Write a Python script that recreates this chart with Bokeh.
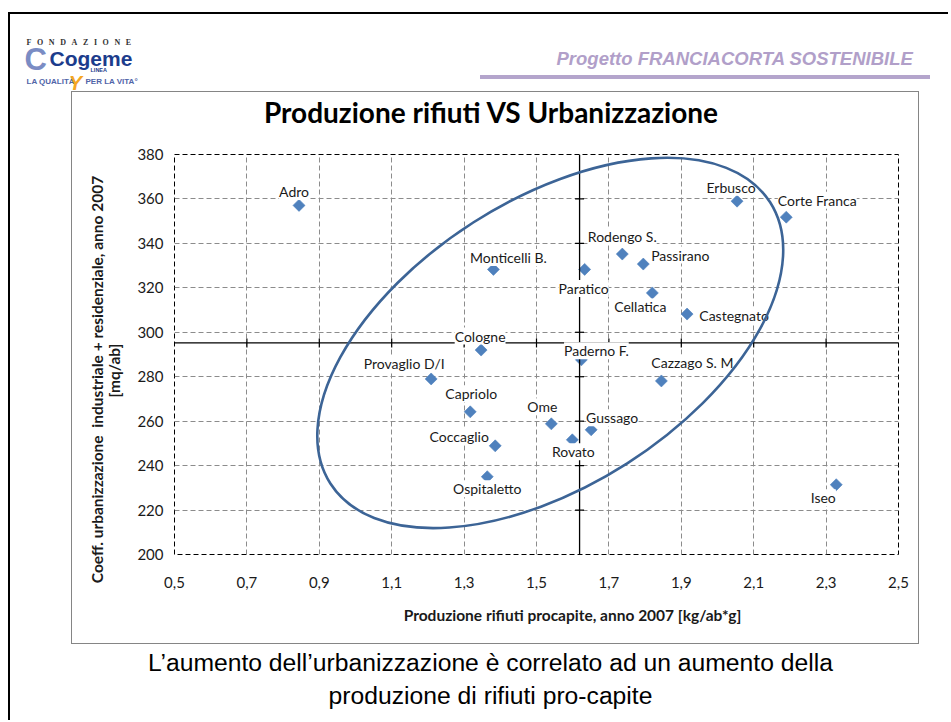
import numpy as np
from bokeh.plotting import figure
from bokeh.models import (Range1d, FixedTicker, CustomJSTickFormatter, Label, Span,
                          InlineStyleSheet)
from bokeh.embed import file_html
from bokeh.resources import INLINE

# ---------------- data ----------------
towns = ["Adro", "Monticelli B.", "Paratico", "Rodengo S.", "Passirano", "Cellatica",
         "Castegnato", "Erbusco", "Corte Franca", "Cologne", "Provaglio D/I", "Capriolo",
         "Coccaglio", "Ospitaletto", "Ome", "Rovato", "Gussago", "Paderno F.",
         "Cazzago S. M", "Iseo"]
rifiuti = [0.844, 1.381, 1.633, 1.737, 1.795, 1.820, 1.916, 2.054, 2.190, 1.347,
           1.209, 1.317, 1.386, 1.364, 1.541, 1.599, 1.651, 1.624, 1.845, 2.328]
urbanizz = [357.1, 328.3, 328.3, 335.2, 330.7, 317.7, 308.2, 359.0, 351.8, 292.0,
            279.0, 264.2, 248.9, 235.0, 258.8, 251.6, 256.1, 287.6, 278.1, 231.4]
x_ticks = [0.5, 0.7, 0.9, 1.1, 1.3, 1.5, 1.7, 1.9, 2.1, 2.3, 2.5]
y_ticks = [200, 220, 240, 260, 280, 300, 320, 340, 360, 380]
mean_rifiuti = 1.619
mean_urbanizz = 295.2

title = "Produzione rifiuti VS Urbanizzazione"
x_title = "Produzione rifiuti procapite, anno 2007 [kg/ab*g]"
y_title_1 = "Coeff. urbanizzazione\u2002industriale + residenziale, anno 2007"
y_title_2 = "[mq/ab]"
header = "Progetto FRANCIACORTA SOSTENIBILE"
caption_1 = "L\u2019aumento dell\u2019urbanizzazione \u00e8 correlato ad un aumento della"
caption_2 = "produzione di rifiuti pro-capite"
logo_top = "\u2002\u2009".join("FONDAZIONE")

# ---------------- layout / style ----------------
label_offsets = {  # screen px (dx right, dy up)
    "Adro": (-5, 14), "Monticelli B.": (15, 12), "Paratico": (-1, -19),
    "Rodengo S.": (0, 18), "Passirano": (37, 9), "Cellatica": (-12, -14),
    "Castegnato": (47, -1), "Erbusco": (-6, 14), "Corte Franca": (31, 17),
    "Cologne": (-1, 14), "Provaglio D/I": (-27, 15), "Capriolo": (1, 18),
    "Coccaglio": (-36, 9), "Ospitaletto": (0, -12), "Ome": (-9, 17),
    "Rovato": (1, -12), "Gussago": (21, 12), "Paderno F.": (15, 9),
    "Cazzago S. M": (31, 18), "Iseo": (-13, -13),
}
ellipse_center = (1.538, 295.2)
ellipse_w, ellipse_h, ellipse_angle = 522, 286, 0.569

FONT = "Lato"

# slide decoration (page borders / header rule) drawn with CSS on the plot element
deco_css = """
:host::before {
  content: ""; position: absolute; left: 71px; top: 91px; width: 846px; height: 551px;
  border: 1px solid #858585; pointer-events: none; z-index: 5;
}
:host::after {
  content: ""; position: absolute; left: 8px; top: 12px; width: 938px; height: 706px;
  border-left: 2px solid #000; border-top: 2px solid #000; pointer-events: none; z-index: 5;
  background: linear-gradient(#b4a5cc, #b4a5cc) no-repeat 470px 61px / 450px 4px;
}
"""

p = figure(frame_width=724, frame_height=400,
           min_border_left=174, min_border_right=40,
           min_border_top=154, min_border_bottom=160,
           x_range=Range1d(0.5, 2.5), y_range=Range1d(200, 380),
           output_backend="svg", toolbar_location=None,
           background_fill_color="white", border_fill_color="white")
p.stylesheets = [InlineStyleSheet(css=deco_css)]
p.title.visible = False

# axes
p.xaxis.ticker = FixedTicker(ticks=x_ticks)
p.yaxis.ticker = FixedTicker(ticks=y_ticks)
p.xgrid.ticker = FixedTicker(ticks=x_ticks)
p.ygrid.ticker = FixedTicker(ticks=y_ticks)
p.xaxis.formatter = CustomJSTickFormatter(code="return tick.toFixed(1).replace('.', ',');")
for ax in (p.xaxis, p.yaxis):
    ax.axis_line_color = None
    ax.major_tick_line_color = None
    ax.minor_tick_line_color = None
    ax.major_tick_in = 0
    ax.major_tick_out = 0
    ax.major_label_text_font = FONT
    ax.major_label_text_font_size = "15px"
    ax.major_label_text_color = "#1a1a1a"
p.xaxis.major_label_standoff = 22
p.yaxis.major_label_standoff = 11

p.grid.grid_line_color = "#8c8c8c"
p.grid.grid_line_dash = "5 3"
p.grid.grid_line_width = 1
p.outline_line_color = "black"
p.outline_line_dash = "5 3"
p.outline_line_width = 1


def page_text(text, x, y, size, side, font=FONT, style="normal", color="black",
              align="center", baseline="middle", angle=0.0):
    p.add_layout(Label(x=x, y=y, x_units="canvas", y_units="canvas",
                       text=text, text_font=font, text_font_size=f"{size}px",
                       text_font_style=style, text_color=color,
                       text_align=align, text_baseline=baseline, angle=angle), side)


# mean lines with ticks
p.add_layout(Span(location=mean_urbanizz, dimension="width", line_color="black", line_width=1.3))
p.add_layout(Span(location=mean_rifiuti, dimension="height", line_color="black", line_width=1.3))
p.scatter(x=x_ticks[1:-1], y=[mean_urbanizz] * (len(x_ticks) - 2), marker="dash",
          angle=np.pi / 2, size=9, line_color="black", line_width=1.2)
p.scatter(x=[mean_rifiuti] * (len(y_ticks) - 2), y=y_ticks[1:-1], marker="dash",
          size=9, line_color="black", line_width=1.2)

# points
p.scatter(x=rifiuti, y=urbanizz, marker="square", size=8.5, angle=np.pi / 4,
          fill_color="#4F81BD", line_color="#4F81BD", line_width=0.6)

# data labels (white boxes as in the original)
for name, xv, yv in zip(towns, rifiuti, urbanizz):
    dx, dy = label_offsets[name]
    p.add_layout(Label(x=xv, y=yv, text=name, x_offset=dx, y_offset=dy,
                       text_font=FONT, text_font_size="14px", text_color="#1a1a1a",
                       text_align="center", text_baseline="middle",
                       background_fill_color="white", background_fill_alpha=1))

# ellipse drawn on top
p.ellipse(x=[ellipse_center[0]], y=[ellipse_center[1]], width=ellipse_w, height=ellipse_h,
          width_units="screen", height_units="screen", angle=ellipse_angle,
          fill_color=None, line_color="#3C6496", line_width=2.6, level="overlay")

# texts outside the plot area (placed in side panels so they are not clipped)
page_text(title, 491, 111, 28, "above", style="bold", color="black")
page_text(header, 913, 58, 18.5, "above", font="Liberation Sans", style="bold italic",
          color="#b19fc9", align="right")
page_text("Cogeme", 49, 58, 21, "above", font="Liberation Sans", style="bold",
          color="#1c3c8c", align="left")
page_text(logo_top, 26, 42, 8, "above", font="Liberation Serif",
          style="bold", color="#333333", align="left")
page_text("PER LA VITA\u00b0", 85, 81, 8, "above", font="Liberation Sans", style="bold",
          color="#5064a8", align="left")
page_text("LINEA", 90, 69, 5.5, "above", font="Liberation Sans", style="bold",
          color="#1c3c8c", align="left")

page_text(y_title_1, 96, 379, 15.5, "left", style="bold", color="#1a1a1a", angle=np.pi / 2)
page_text(y_title_2, 113, 370, 15.5, "left", style="bold", color="#1a1a1a", angle=np.pi / 2)
page_text("C", 24, 59, 31, "left", font="Liberation Sans", style="bold",
          color="#7a8cc4", align="left")
page_text("LA QUALIT\u00c0", 26, 81, 8, "left", font="Liberation Sans", style="bold",
          color="#5064a8", align="left")
page_text("Y", 75, 82, 20, "right", font="Liberation Sans", style="bold italic",
          color="#f5a623")

page_text(x_title, 572, 614, 15.5, "below", style="bold", color="#1a1a1a")
page_text(caption_1, 490, 662, 24.7, "below", font="Liberation Sans")
page_text(caption_2, 490, 695, 24.7, "below", font="Liberation Sans")

open("out.html", "w").write(file_html(p, INLINE))
